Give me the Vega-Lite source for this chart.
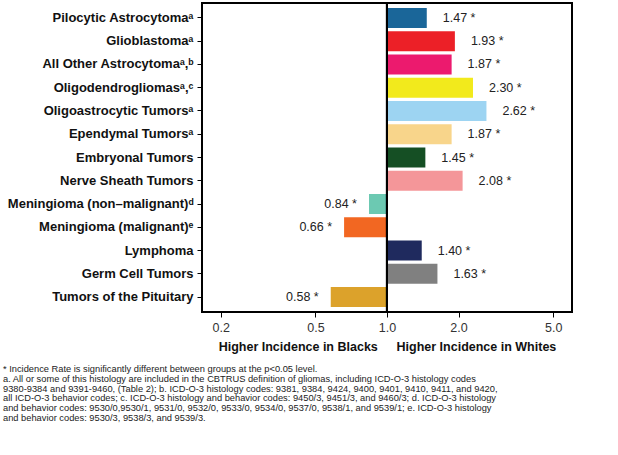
{
  "$schema": "https://vega.github.io/schema/vega-lite/v6.json",
  "width": 370,
  "height": 309,
  "autosize": {"type": "none"},
  "padding": {"left": 202, "top": 3, "right": 46, "bottom": 143},
  "config": {
    "font": "Liberation Sans",
    "view": {"stroke": "black", "strokeWidth": 2}
  },
  "title": {
    "text": [
      "* Incidence Rate is significantly different between groups at the p<0.05 level.",
      "a. All or some of this histology are included in the CBTRUS definition of gliomas, including ICD-O-3 histology codes",
      "9380-9384 and 9391-9460, (Table 2); b. ICD-O-3 histology codes: 9381, 9384, 9424, 9400, 9401, 9410, 9411, and 9420,",
      "all ICD-O-3 behavior codes; c. ICD-O-3 histology and behavior codes: 9450/3, 9451/3, and 9460/3; d. ICD-O-3 histology",
      "and behavior codes: 9530/0,9530/1, 9531/0, 9532/0, 9533/0, 9534/0, 9537/0, 9538/1, and 9539/1; e. ICD-O-3 histology",
      "and behavior codes: 9530/3, 9538/3, and 9539/3."
    ],
    "orient": "bottom",
    "anchor": "start",
    "frame": "group",
    "dx": -199,
    "fontSize": 9.3,
    "fontWeight": "normal",
    "lineHeight": 9.8,
    "color": "#222",
    "offset": 12
  },
  "data": {
    "values": [
      {"tumor": "Pilocytic Astrocytomaᵃ", "ratio": 1.47},
      {"tumor": "Glioblastomaᵃ", "ratio": 1.93},
      {"tumor": "All Other Astrocytomaᵃ,ᵇ", "ratio": 1.87},
      {"tumor": "Oligodendrogliomasᵃ,ᶜ", "ratio": 2.30},
      {"tumor": "Oligoastrocytic Tumorsᵃ", "ratio": 2.62},
      {"tumor": "Ependymal Tumorsᵃ", "ratio": 1.87},
      {"tumor": "Embryonal Tumors", "ratio": 1.45},
      {"tumor": "Nerve Sheath Tumors", "ratio": 2.08},
      {"tumor": "Meningioma (non–malignant)ᵈ", "ratio": 0.84},
      {"tumor": "Meningioma (malignant)ᵉ", "ratio": 0.66},
      {"tumor": "Lymphoma", "ratio": 1.40},
      {"tumor": "Germ Cell Tumors", "ratio": 1.63},
      {"tumor": "Tumors of the Pituitary", "ratio": 0.58}
    ]
  },
  "transform": [
    {"calculate": "format(datum.ratio, '.2f') + ' *'", "as": "label"}
  ],
  "encoding": {
    "y": {
      "field": "tumor",
      "type": "nominal",
      "sort": null,
      "scale": {"paddingInner": 0.14, "paddingOuter": 0.215},
      "axis": {
        "title": null,
        "labelFontWeight": "bold",
        "labelFontSize": 13,
        "labelColor": "#111",
        "labelPadding": 4,
        "tickColor": "black",
        "tickSize": 5,
        "domain": false,
        "labelLimit": 300
      }
    }
  },
  "layer": [
    {
      "mark": {"type": "bar"},
      "encoding": {
        "x": {
          "field": "ratio",
          "type": "quantitative",
          "scale": {"type": "log", "domain": [0.1667, 6], "nice": false},
          "axis": {
            "values": [0.2, 0.5, 1, 2, 5],
            "format": ".1f",
            "labelFontSize": 12.5,
            "labelColor": "#333",
            "labelPadding": 4,
            "tickColor": "black",
            "tickSize": 5,
            "grid": false,
            "domain": false,
            "title": "Higher Incidence in Blacks\u2003\u2002Higher Incidence in Whites",
            "titleFontSize": 12.5,
            "titleFontWeight": "bold",
            "titleColor": "#111",
            "titlePadding": 7
          }
        },
        "x2": {"datum": 1},
        "color": {
          "field": "tumor",
          "type": "nominal",
          "legend": null,
          "scale": {
            "domain": ["Pilocytic Astrocytomaᵃ", "Glioblastomaᵃ", "All Other Astrocytomaᵃ,ᵇ", "Oligodendrogliomasᵃ,ᶜ", "Oligoastrocytic Tumorsᵃ", "Ependymal Tumorsᵃ", "Embryonal Tumors", "Nerve Sheath Tumors", "Meningioma (non–malignant)ᵈ", "Meningioma (malignant)ᵉ", "Lymphoma", "Germ Cell Tumors", "Tumors of the Pituitary"],
            "range": ["#1a6699", "#ec2027", "#ec1a6e", "#f2ea1c", "#9dd4f2", "#f8d58b", "#154f24", "#f49699", "#6cc9b2", "#f26722", "#1f2a5e", "#808080", "#dca22b"]
          }
        }
      }
    },
    {
      "mark": {"type": "rule", "color": "black", "strokeWidth": 2},
      "encoding": {"x": {"datum": 1}, "y": null}
    },
    {
      "transform": [{"filter": "datum.ratio > 1"}],
      "mark": {"type": "text", "align": "left", "dx": 16, "fontSize": 12.5, "color": "#222"},
      "encoding": {
        "x": {"field": "ratio", "type": "quantitative"},
        "text": {"field": "label"}
      }
    },
    {
      "transform": [{"filter": "datum.ratio < 1"}],
      "mark": {"type": "text", "align": "right", "dx": -12, "fontSize": 12.5, "color": "#222"},
      "encoding": {
        "x": {"field": "ratio", "type": "quantitative"},
        "text": {"field": "label"}
      }
    }
  ]
}
